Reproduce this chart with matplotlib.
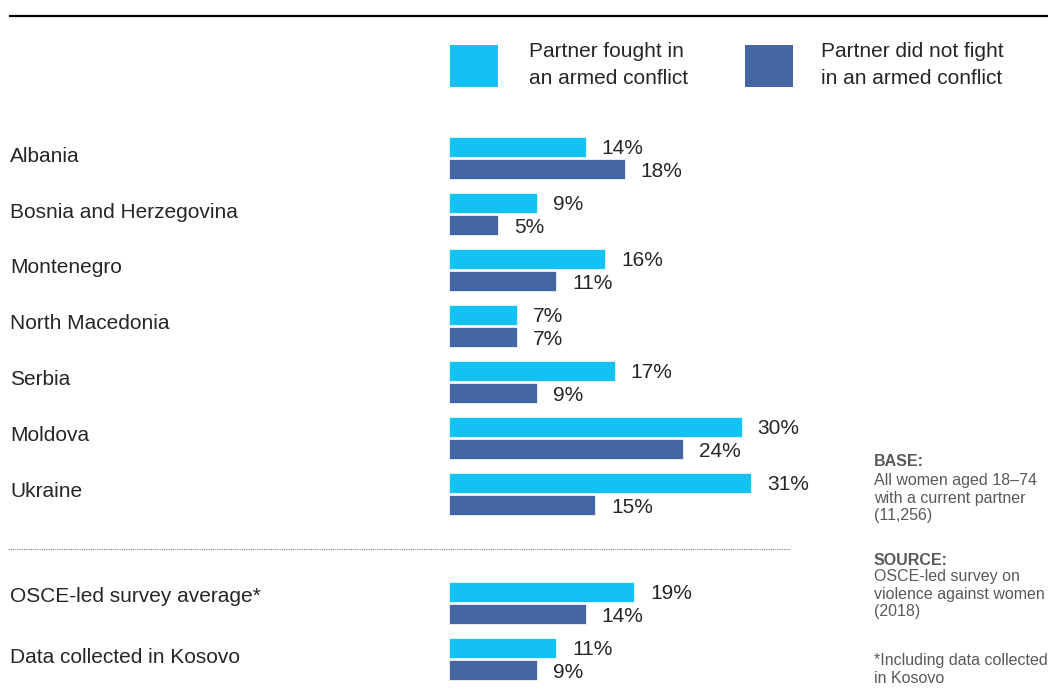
"""Bar chart: partner fought / did not fight in an armed conflict (OSCE-led survey)."""
import numpy as np
import matplotlib
matplotlib.use("Agg")
import matplotlib.pyplot as plt
from matplotlib.patches import Rectangle
from matplotlib.lines import Line2D
from matplotlib.transforms import blended_transform_factory

plt.rcParams["font.family"] = ["Liberation Sans", "DejaVu Sans"]

# data
countries = ["Albania", "Bosnia and Herzegovina", "Montenegro", "North Macedonia",
             "Serbia", "Moldova", "Ukraine", "OSCE-led survey average*",
             "Data collected in Kosovo"]
fought = [14, 9, 16, 7, 17, 30, 31, 19, 11]
not_fought = [18, 5, 11, 7, 9, 24, 15, 14, 9]
legend_labels = ["Partner fought in\nan armed conflict",
                 "Partner did not fight\nin an armed conflict"]

CYAN = "#14C1F3"
DARK = "#4467A3"
TXT = "#262626"
NOTE = "#595959"

W, H = 1048, 695


def px(x, y):
    # pixel (from top-left) -> figure fraction
    return x / W, 1 - y / H


fig = plt.figure(figsize=(W / 100, H / 100), dpi=100)

# bar axes: 0% at x=449px, 9.76 px per %, rows 56 px apart
ax = fig.add_axes([449 / W, 1 - 687 / H, 390 / W, 557 / H])
ax.set_xlim(0, 40)
ax.set_ylim(9.45, -0.5)
ax.axis("off")

ypos = np.array(list(range(7)) + [7.95, 8.95])
off, bh = 0.2, 0.355
ax.barh(ypos - off, fought, height=bh, color=CYAN, edgecolor="white", linewidth=0.5)
ax.barh(ypos + off, not_fought, height=bh, color=DARK, edgecolor="white", linewidth=0.5)

for y, a, b in zip(ypos, fought, not_fought):
    ax.annotate(f"{a}%", (a, y - off), xytext=(11.5, -1.5), textcoords="offset points",
                va="center", ha="left", fontsize=15, color=TXT)
    ax.annotate(f"{b}%", (b, y + off), xytext=(11.5, -1.5), textcoords="offset points",
                va="center", ha="left", fontsize=15, color=TXT)

# category labels at the left edge of the figure
lab_tr = blended_transform_factory(fig.transFigure, ax.transData)
for y, name in zip(ypos, countries):
    dy = -0.11 if name.startswith("OSCE") else -0.035
    ax.text(10 / W, y + dy, name, transform=lab_tr,
            ha="left", va="center", fontsize=15, color=TXT)

# top rule and dotted separator
fig.add_artist(Line2D([10 / W, 1], [1 - 16 / H] * 2, color="black", linewidth=1.6))
fig.add_artist(Line2D([8 / W, 790 / W], [1 - 549 / H] * 2, color="#7F7F7F",
                      linewidth=0.8, linestyle=(0, (1, 1))))

# legend
for (bx, tx), col, lab in zip([(450, 529), (745, 821)], [CYAN, DARK], legend_labels):
    x0, y0 = px(bx, 87)
    fig.add_artist(Rectangle((x0, y0), 48 / W, 42 / H, transform=fig.transFigure,
                             facecolor=col, edgecolor="none"))
    fig.text(*px(tx, 65), lab, ha="left", va="center", fontsize=15, color=TXT,
             linespacing=1.55)

# notes on the right
notes = [
    (454, "BASE:", True),
    (473, "All women aged 18–74\nwith a current partner\n(11,256)", False),
    (553, "SOURCE:", True),
    (569, "OSCE-led survey on\nviolence against women\n(2018)", False),
    (653, "*Including data collected\nin Kosovo", False),
]
for y, t, bold in notes:
    fig.text(*px(874, y), t, ha="left", va="top", fontsize=11.5, color=NOTE,
             fontweight="bold" if bold else "normal", linespacing=1.22)

fig.savefig("out.png", dpi=100)
